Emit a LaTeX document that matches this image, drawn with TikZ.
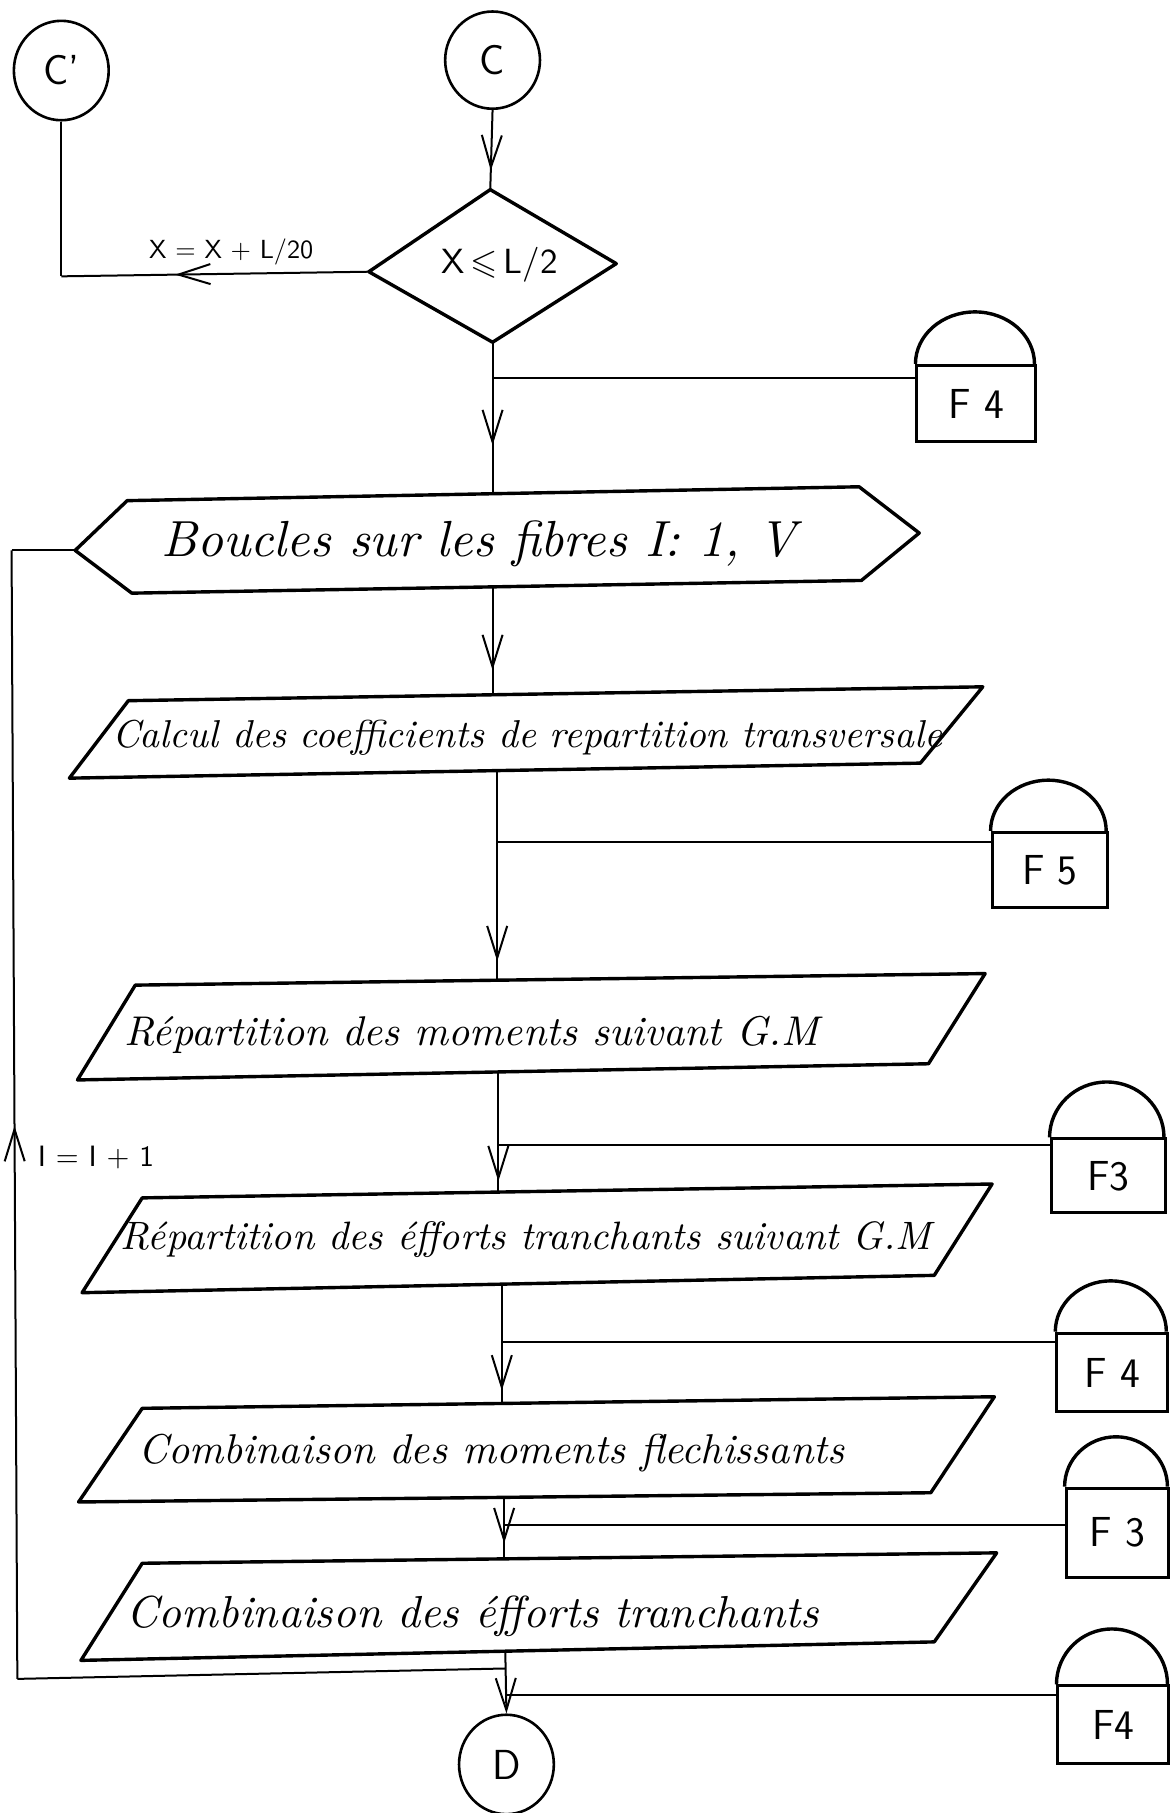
\documentclass[tikz,border=0pt]{standalone}
\usepackage{graphicx}
\usepackage{amssymb}
\usetikzlibrary{arrows.meta,decorations.markings,shapes.geometric}
\begin{document}
\begin{tikzpicture}[x=0.578pt,y=-0.578pt,
  shp/.style={draw=black,line width=1.7pt,line join=round},
  con/.style={draw=black,line width=1pt},
  cir/.style={draw=black,line width=1.3pt,ellipse,inner sep=0pt,font=\sffamily\fontsize{21}{25}\selectfont},
  fbox/.style={draw=black,line width=1.5pt,rectangle,inner sep=0pt,font=\sffamily\fontsize{21}{25}\selectfont},
  lbl/.style={inner sep=0pt},
  vtip/.tip={Straight Barb[length=16pt,width=10pt]},
  arrowat/.style={postaction={decorate},decoration={markings,mark=at position #1 with {\arrow{vtip}}}}
]
\useasboundingbox (0,0) rectangle (1013,1568);

% connectors circles
\node[cir,minimum width=47.4pt,minimum height=48.6pt] (cC) at (426,52) {C};
\node[cir,minimum width=47.4pt,minimum height=49.7pt] (cCp) at (53,61) {C'};
\node[cir,minimum width=47.4pt,minimum height=49.7pt] (cD) at (438,1526) {D};

% decision diamond
\coordinate (dT) at (424,164);
\coordinate (dL) at (319,235);
\coordinate (dB) at (426,296);
\coordinate (dR) at (533,228);
\draw[shp] (dT) -- (dR) -- (dB) -- (dL) -- cycle;
\node[lbl] (dtx) at (432,229) {\resizebox{58pt}{!}{\sffamily X\,$\leqslant$\,L/2}};

\draw[con,arrowat=0.76] (cC.south) -- (dT);
\coordinate (k1) at (53,239);
\draw[con,arrowat=0.63] (dL) -- (k1);
\draw[con] (k1) -- (cCp.south);
\node[lbl] (lx) at (200,218) {\resizebox{82pt}{!}{\sffamily X = X + L/20}};

% storage boxes
\node[fbox,minimum width=59.5pt,minimum height=38.1pt] (f1) at (844.5,349) {F 4};
\draw[shp] (f1.north west) arc[start angle=180,end angle=0,x radius=29.75pt,y radius=26pt];
\node[fbox,minimum width=57.8pt,minimum height=37.6pt] (f2) at (908,752.5) {F 5};
\draw[shp] (f2.north west) arc[start angle=180,end angle=0,x radius=28.9pt,y radius=25.4pt];
\node[fbox,minimum width=57.2pt,minimum height=37pt] (f3) at (958.5,1017) {F3};
\draw[shp] (f3.north west) arc[start angle=180,end angle=0,x radius=28.6pt,y radius=27.7pt];
\node[fbox,minimum width=55.5pt,minimum height=39.3pt] (f4) at (962,1187) {F 4};
\draw[shp] (f4.north west) arc[start angle=180,end angle=0,x radius=27.75pt,y radius=25.4pt];
\node[fbox,minimum width=51.4pt,minimum height=44.5pt] (f5) at (966.5,1325.5) {F 3};
\draw[shp] (f5.north west) arc[start angle=180,end angle=0,x radius=25.7pt,y radius=24.9pt];
\node[fbox,minimum width=55.5pt,minimum height=38.7pt] (f6) at (963,1491.5) {F4};
\draw[shp] (f6.north west) arc[start angle=180,end angle=0,x radius=27.75pt,y radius=27.7pt];

% loop hexagon
\coordinate (hL) at (65,476);
\coordinate (hTL) at (110,433);
\coordinate (hTR) at (743,421);
\coordinate (hR) at (795,461);
\coordinate (hBR) at (745,502);
\coordinate (hBL) at (114,513);
\draw[shp] (hL) -- (hTL) -- (hTR) -- (hR) -- (hBR) -- (hBL) -- cycle;
\node[lbl] (htx) at (414,470) {\resizebox{317pt}{!}{\itshape Boucles sur les fibres I: 1, V}};
\coordinate (hN) at (426,427);
\coordinate (hS) at (426,508);
\coordinate (j1) at (426,327);
\draw[con,arrowat=0.68] (dB) -- (hN);
\draw[con] (j1) -- (j1 -| f1.west);

% parallelogram 1
\coordinate (p1a) at (111,606);
\coordinate (p1b) at (850,594);
\coordinate (p1c) at (796,660);
\coordinate (p1d) at (60,673);
\draw[shp] (p1a) -- (p1b) -- (p1c) -- (p1d) -- cycle;
\node[lbl] (p1t) at (456,638) {\resizebox{415pt}{!}{\itshape Calcul des coefficients de repartition transversale}};
\coordinate (p1N) at (426,601);
\coordinate (p1S) at (430,666.5);
\draw[con,arrowat=0.77] (hS) -- (p1N);

% parallelogram 2
\coordinate (p2a) at (117,852);
\coordinate (p2b) at (852,842);
\coordinate (p2c) at (803,920);
\coordinate (p2d) at (67,934);
\draw[shp] (p2a) -- (p2b) -- (p2c) -- (p2d) -- cycle;
\node[lbl] (p2t) at (408,895) {\resizebox{347pt}{!}{\itshape R\'epartition des moments suivant G.M}};
\coordinate (p2N) at (430,847.7);
\coordinate (p2S) at (431,927);
\coordinate (j2) at (430,728);
\draw[con,arrowat=0.91] (p1S) -- (p2N);
\draw[con] (j2) -- (j2 -| f2.west);

% parallelogram 3
\coordinate (p3a) at (123,1036);
\coordinate (p3b) at (858,1024);
\coordinate (p3c) at (808,1103);
\coordinate (p3d) at (71,1118);
\draw[shp] (p3a) -- (p3b) -- (p3c) -- (p3d) -- cycle;
\node[lbl] (p3t) at (455,1072) {\resizebox{405pt}{!}{\itshape R\'epartition des \'efforts tranchants suivant G.M}};
\coordinate (p3N) at (431,1031);
\coordinate (p3S) at (434,1110.5);
\coordinate (j3) at (431,990);
\draw[con,arrowat=0.91] (p2S) -- (p3N);
\draw[con] (j3) -- (j3 -| f3.west);

% parallelogram 4
\coordinate (p4a) at (123,1218);
\coordinate (p4b) at (860,1208);
\coordinate (p4c) at (805,1291);
\coordinate (p4d) at (68,1299);
\draw[shp] (p4a) -- (p4b) -- (p4c) -- (p4d) -- cycle;
\node[lbl] (p4t) at (425,1257) {\resizebox{353pt}{!}{\itshape Combinaison des moments flechissants}};
\coordinate (p4N) at (434,1214);
\coordinate (p4S) at (436,1295);
\coordinate (j4) at (434,1161);
\draw[con,arrowat=0.89] (p3S) -- (p4N);
\draw[con] (j4) -- (j4 -| f4.west);

% parallelogram 5
\coordinate (p5a) at (123,1352);
\coordinate (p5b) at (862,1343);
\coordinate (p5c) at (808,1420);
\coordinate (p5d) at (70,1436);
\draw[shp] (p5a) -- (p5b) -- (p5c) -- (p5d) -- cycle;
\node[lbl] (p5t) at (409,1398) {\resizebox{346pt}{!}{\itshape Combinaison des \'efforts tranchants}};
\coordinate (p5N) at (436,1348);
\coordinate (p5S) at (437,1428);
\coordinate (j5) at (436,1319);
\draw[con,arrowat=0.75] (p4S) -- (p5N);
\draw[con] (j5) -- (j5 -| f5.west);

\coordinate (j6) at (437,1466);
\coordinate (jL) at (437,1443);
\draw[con,-{vtip}] (p5S) -- (cD.north);
\draw[con] (j6) -- (j6 -| f6.west);

% loop back
\coordinate (lb) at (15,1452);
\coordinate (lt) at (10,476);
\draw[con] (jL) -- (lb);
\draw[con,arrowat=0.49] (lb) -- (lt);
\draw[con] (lt) -- (hL);
\node[lbl] (li) at (83,1001) {\resizebox{58pt}{!}{\sffamily I = I + 1}};
\end{tikzpicture}
\end{document}
